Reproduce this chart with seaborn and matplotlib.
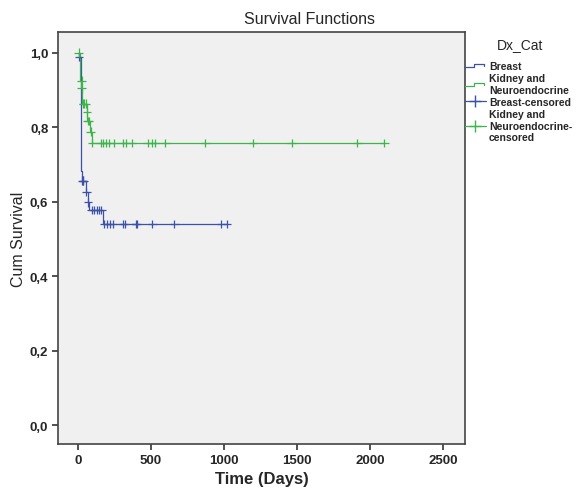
import matplotlib
matplotlib.use("Agg")
import matplotlib.pyplot as plt
from matplotlib.lines import Line2D
from matplotlib.legend_handler import HandlerBase
import matplotlib.ticker as mticker
import seaborn as sns
import pandas as pd

# Kaplan-Meier step data (time in days, cumulative survival after event)
breast_t = [0, 5, 20, 28, 55, 68, 75, 175, 1022]
breast_s = [1.0, 0.989, 0.683, 0.656, 0.626, 0.598, 0.578, 0.540, 0.540]
breast_cens_t = [8, 30, 35, 38, 58, 70, 95, 110, 130, 145, 160,
                 180, 200, 218, 238, 307, 320, 395, 402, 511, 661, 981, 1022]
breast_cens_s = [0.989, 0.656, 0.656, 0.656, 0.626, 0.598, 0.578, 0.578, 0.578, 0.578, 0.578,
                 0.540, 0.540, 0.540, 0.540, 0.540, 0.540, 0.540, 0.540, 0.540, 0.540, 0.540, 0.540]

kidney_t = [0, 15, 22, 30, 60, 65, 85, 95, 2098]
kidney_s = [1.0, 0.925, 0.905, 0.863, 0.840, 0.817, 0.788, 0.758, 0.758]
kidney_cens_t = [5, 25, 27, 35, 40, 55, 62, 68, 75, 88,
                 100, 157, 171, 191, 211, 245, 307, 327, 368, 477, 511, 531, 600,
                 872, 1199, 1465, 1914, 2098]
kidney_cens_s = [1.0, 0.925, 0.905, 0.863, 0.863, 0.863, 0.840, 0.817, 0.817, 0.788,
                 0.758, 0.758, 0.758, 0.758, 0.758, 0.758, 0.758, 0.758, 0.758, 0.758, 0.758, 0.758, 0.758,
                 0.758, 0.758, 0.758, 0.758, 0.758]

groups = ["Breast", "Kidney and Neuroendocrine"]
colors = {"Breast": "#3b52a8", "Kidney and Neuroendocrine": "#3db54a"}

curves = pd.concat([
    pd.DataFrame({"t": breast_t, "s": breast_s, "grp": groups[0]}),
    pd.DataFrame({"t": kidney_t, "s": kidney_s, "grp": groups[1]}),
])
cens = pd.concat([
    pd.DataFrame({"t": breast_cens_t, "s": breast_cens_s, "grp": groups[0]}),
    pd.DataFrame({"t": kidney_cens_t, "s": kidney_cens_s, "grp": groups[1]}),
])


class StepHandler(HandlerBase):
    # little step glyph like the SPSS legend
    def create_artists(self, legend, orig, xd, yd, w, h, fontsize, trans):
        lo, hi = yd + h * 0.3, yd + h * 0.75
        xs = [xd, xd + w * 0.45, xd + w * 0.45, xd + w * 0.9, xd + w * 0.9]
        ys = [lo, lo, hi, hi, hi - h * 0.3]
        ln = Line2D(xs, ys, color=orig.get_color(), lw=orig.get_linewidth(), transform=trans)
        return [ln]


sns.set_style("ticks")
plt.rcParams["font.family"] = ["Liberation Sans", "DejaVu Sans"]

fig = plt.figure(figsize=(5.76, 4.89), dpi=100)
ax = fig.add_axes([0.1007, 0.090, 0.7063, 0.8425])
ax.set_facecolor("#f0f0f0")

sns.lineplot(data=curves, x="t", y="s", hue="grp", palette=colors,
             drawstyle="steps-post", estimator=None, sort=False,
             linewidth=0.9, legend=False, ax=ax)
sns.scatterplot(data=cens, x="t", y="s", hue="grp", palette=colors,
                marker="+", s=40, linewidth=0.9, legend=False, ax=ax, zorder=3)

ax.set_xlim(-136, 2650)
ax.set_ylim(-0.051, 1.056)
ax.set_xticks([0, 500, 1000, 1500, 2000, 2500])
ax.set_yticks([0.0, 0.2, 0.4, 0.6, 0.8, 1.0])
ax.yaxis.set_major_formatter(mticker.FuncFormatter(lambda v, p: f"{v:.1f}".replace(".", ",")))
ax.tick_params(direction="out", length=4, width=1.2, color="#333333", pad=3, labelsize=9.5)
for lbl in ax.get_xticklabels() + ax.get_yticklabels():
    lbl.set_fontweight("bold")

for sp in ax.spines.values():
    sp.set_color("#444444")
    sp.set_linewidth(1.2)

fig.text(0.537, 1 - 20 / 489, "Survival Functions", fontsize=11.5, ha="center", va="center")
ax.set_xlabel("Time (Days)", fontsize=12, fontweight="bold", labelpad=4)
ax.set_ylabel("Cum Survival", fontsize=11.5, labelpad=3)

handles = [
    Line2D([], [], color=colors[groups[0]], lw=0.9),
    Line2D([], [], color=colors[groups[1]], lw=0.9),
    Line2D([], [], color=colors[groups[0]], lw=0.9, marker="+", markersize=9),
    Line2D([], [], color=colors[groups[1]], lw=0.9, marker="+", markersize=9),
]
labels = ["Breast", "Kidney and\nNeuroendocrine", "Breast-censored",
          "Kidney and\nNeuroendocrine-\ncensored"]
fig.text(520 / 576, 1 - 45 / 489, "Dx_Cat", fontsize=10, ha="center", va="center")
fig.legend(handles, labels, loc="upper left",
           bbox_to_anchor=(0.800, 0.881), frameon=False,
           prop={"weight": "bold", "size": 7.5},
           handlelength=2.0, handletextpad=0.3, labelspacing=0.2,
           borderaxespad=0,
           handler_map={handles[0]: StepHandler(), handles[1]: StepHandler()})

fig.savefig("out.png", dpi=100)
